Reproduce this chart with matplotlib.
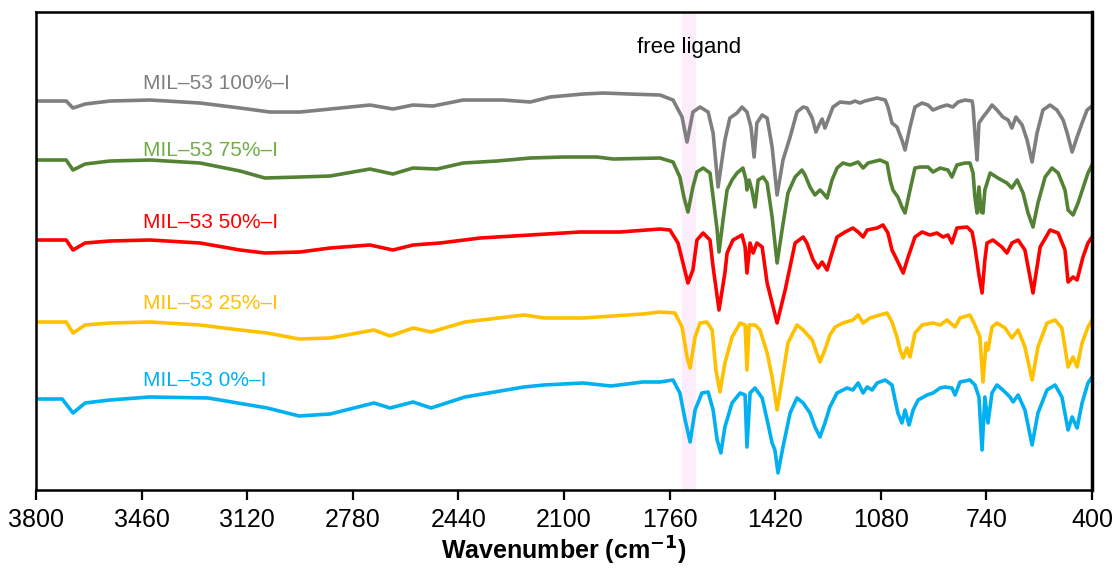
import matplotlib
matplotlib.use("Agg")
import matplotlib.pyplot as plt

plt.rcParams['font.family'] = ['Liberation Sans', 'DejaVu Sans']

# FTIR spectra of MIL-53 with different iodine content (stacked, a.u.)
labels = ["MIL\u201353 100%\u2013I", "MIL\u201353 75%\u2013I", "MIL\u201353 50%\u2013I",
          "MIL\u201353 25%\u2013I", "MIL\u201353 0%\u2013I"]
line_colors = ["#7f7f7f", "#548235", "#ff0000", "#ffc000", "#00b0f0"]
text_colors = ["#7f7f7f", "#70ad47", "#ff0000", "#ffc000", "#00b0f0"]
label_y = [4.07, 3.40, 2.68, 1.86, 1.09]

wn_100 = [3800, 3703, 3681, 3642, 3562, 3433, 3272, 3143, 3047, 2950, 2853, 2725, 2651, 2586, 2522,
          2425, 2296, 2209, 2145, 2039, 1974, 1888, 1791, 1749, 1720, 1704, 1685, 1662, 1636, 1620,
          1604, 1582, 1566, 1543, 1527, 1511, 1498, 1488, 1479, 1462, 1446, 1430, 1414, 1395, 1372,
          1350, 1330, 1318, 1301, 1289, 1279, 1269, 1260, 1250, 1234, 1211, 1179, 1163, 1147, 1131,
          1092, 1066, 1057, 1044, 1028, 1012, 1002, 986, 970, 947, 928, 912, 889, 867, 848, 831, 809,
          786, 783, 777, 770, 764, 751, 738, 722, 706, 687, 670, 658, 645, 625, 609, 593, 577, 558,
          535, 513, 493, 480, 464, 448, 432, 416, 400]
t_100 = [3.89, 3.89, 3.82, 3.86, 3.89, 3.90, 3.87, 3.82, 3.78, 3.78, 3.81, 3.85, 3.81, 3.85, 3.84,
         3.90, 3.90, 3.88, 3.93, 3.96, 3.97, 3.96, 3.95, 3.90, 3.73, 3.48, 3.78, 3.83, 3.78, 3.57,
         3.03, 3.50, 3.72, 3.77, 3.83, 3.78, 3.63, 3.33, 3.67, 3.75, 3.72, 3.43, 2.95, 3.30, 3.53,
         3.78, 3.83, 3.82, 3.72, 3.58, 3.65, 3.71, 3.62, 3.70, 3.83, 3.88, 3.87, 3.89, 3.87, 3.89,
         3.92, 3.90, 3.83, 3.67, 3.63, 3.50, 3.40, 3.63, 3.83, 3.87, 3.85, 3.80, 3.83, 3.85, 3.83,
         3.88, 3.90, 3.89, 3.83, 3.57, 3.30, 3.67, 3.73, 3.78, 3.85, 3.80, 3.73, 3.70, 3.62, 3.73,
         3.65, 3.50, 3.28, 3.57, 3.80, 3.85, 3.80, 3.70, 3.57, 3.38, 3.53, 3.67, 3.80, 3.84]

wn_75 = [3800, 3703, 3681, 3642, 3562, 3433, 3272, 3143, 3063, 2950, 2853, 2725, 2651, 2586, 2509,
         2425, 2316, 2209, 2103, 1994, 1942, 1791, 1749, 1727, 1714, 1701, 1685, 1672, 1652, 1630,
         1620, 1607, 1601, 1588, 1575, 1559, 1543, 1524, 1514, 1511, 1504, 1495, 1485, 1475, 1459,
         1446, 1430, 1414, 1398, 1379, 1356, 1334, 1324, 1308, 1292, 1276, 1266, 1253, 1237, 1221,
         1202, 1179, 1153, 1137, 1121, 1083, 1060, 1050, 1041, 1025, 1012, 1002, 986, 970, 954, 928,
         912, 889, 864, 851, 835, 809, 793, 783, 777, 770, 764, 757, 751, 745, 728, 703, 674, 658,
         641, 622, 606, 590, 574, 551, 529, 509, 487, 477, 461, 445, 413, 400]
t_75 = [3.30, 3.30, 3.20, 3.26, 3.29, 3.30, 3.27, 3.19, 3.12, 3.13, 3.14, 3.21, 3.16, 3.22, 3.21,
        3.27, 3.29, 3.32, 3.33, 3.33, 3.31, 3.32, 3.28, 3.13, 2.93, 2.78, 3.03, 3.18, 3.22, 3.17,
        2.93, 2.60, 2.38, 2.70, 3.00, 3.10, 3.17, 3.22, 3.10, 3.00, 3.10, 3.00, 2.83, 3.10, 3.13,
        3.07, 2.73, 2.27, 2.60, 2.97, 3.13, 3.20, 3.15, 3.03, 2.95, 3.00, 2.97, 2.92, 3.10, 3.22,
        3.27, 3.25, 3.28, 3.22, 3.27, 3.30, 3.27, 3.10, 3.00, 2.93, 2.83, 2.77, 3.00, 3.22, 3.23, 3.23,
        3.18, 3.22, 3.20, 3.13, 3.25, 3.27, 3.27, 3.17, 2.93, 2.77, 3.03, 2.78, 2.77, 3.00, 3.17,
        3.12, 3.07, 3.02, 3.10, 2.97, 2.77, 2.63, 2.87, 3.13, 3.22, 3.17, 3.00, 2.80, 2.75, 2.87,
        3.17, 3.25]

wn_50 = [3800, 3703, 3681, 3642, 3562, 3433, 3272, 3143, 3063, 2950, 2853, 2725, 2651, 2586, 2499,
         2370, 2209, 2048, 1920, 1791, 1759, 1733, 1717, 1701, 1685, 1672, 1652, 1630, 1620, 1601,
         1582, 1575, 1556, 1527, 1517, 1511, 1501, 1491, 1479, 1462, 1446, 1414, 1388, 1356, 1330,
         1318, 1298, 1282, 1269, 1253, 1237, 1221, 1195, 1170, 1153, 1137, 1124, 1092, 1073, 1057,
         1044, 1028, 1008, 992, 970, 947, 922, 899, 880, 864, 851, 835, 802, 786, 777, 764, 754, 745,
         738, 719, 690, 674, 658, 638, 616, 590, 567, 535, 509, 487, 477, 461, 448, 429, 413, 400]
t_50 = [2.50, 2.50, 2.40, 2.47, 2.49, 2.50, 2.47, 2.40, 2.37, 2.38, 2.42, 2.45, 2.40, 2.45, 2.47,
        2.52, 2.55, 2.58, 2.58, 2.61, 2.60, 2.47, 2.27, 2.07, 2.20, 2.50, 2.57, 2.50, 2.23, 1.80,
        2.17, 2.37, 2.50, 2.55, 2.43, 2.17, 2.47, 2.37, 2.47, 2.43, 2.07, 1.67, 2.00, 2.47, 2.53,
        2.47, 2.30, 2.22, 2.28, 2.20, 2.37, 2.53, 2.58, 2.62, 2.58, 2.53, 2.60, 2.62, 2.65, 2.57,
        2.40, 2.30, 2.17, 2.33, 2.53, 2.58, 2.55, 2.57, 2.53, 2.55, 2.47, 2.62, 2.63, 2.58, 2.43,
        2.15, 1.97, 2.30, 2.47, 2.50, 2.43, 2.37, 2.47, 2.50, 2.40, 1.97, 2.43, 2.60, 2.57, 2.40,
        2.08, 2.13, 2.10, 2.33, 2.47, 2.53]

wn_25 = [3800, 3703, 3681, 3642, 3562, 3433, 3272, 3143, 3056, 2953, 2853, 2712, 2660, 2586, 2528,
         2419, 2229, 2164, 2039, 1846, 1791, 1743, 1720, 1704, 1694, 1678, 1662, 1640, 1623, 1611,
         1598, 1582, 1559, 1533, 1517, 1511, 1504, 1485, 1469, 1446, 1430, 1414, 1398, 1379, 1350,
         1330, 1301, 1276, 1260, 1244, 1227, 1202, 1170, 1153, 1137, 1115, 1083, 1060, 1044, 1028,
         1018, 1008, 996, 986, 970, 947, 912, 889, 867, 841, 825, 793, 777, 761, 751, 741, 735, 722,
         706, 680, 658, 638, 616, 593, 574, 545, 519, 497, 477, 461, 448, 432, 413, 400]
t_25 = [1.68, 1.68, 1.57, 1.65, 1.67, 1.68, 1.65, 1.60, 1.57, 1.51, 1.52, 1.60, 1.54, 1.62, 1.58,
        1.68, 1.75, 1.72, 1.72, 1.76, 1.78, 1.77, 1.63, 1.33, 1.22, 1.53, 1.67, 1.68, 1.60, 1.20,
        0.98, 1.27, 1.53, 1.67, 1.65, 1.20, 1.65, 1.65, 1.60, 1.37, 1.13, 0.80, 1.10, 1.47, 1.65,
        1.60, 1.50, 1.28, 1.40, 1.55, 1.63, 1.67, 1.70, 1.75, 1.67, 1.72, 1.75, 1.77, 1.68, 1.53,
        1.40, 1.32, 1.42, 1.33, 1.57, 1.65, 1.67, 1.65, 1.70, 1.63, 1.72, 1.75, 1.65, 1.53, 1.08,
        1.47, 1.40, 1.63, 1.67, 1.62, 1.52, 1.60, 1.43, 1.10, 1.43, 1.67, 1.70, 1.62, 1.23, 1.33,
        1.23, 1.47, 1.63, 1.70]

wn_0 = [3800, 3716, 3681, 3642, 3562, 3433, 3246, 3056, 2953, 2853, 2712, 2660, 2586, 2528, 2419,
        2229, 2164, 2039, 1949, 1846, 1791, 1749, 1727, 1710, 1694, 1678, 1656, 1636, 1620, 1607,
        1595, 1582, 1559, 1533, 1517, 1511, 1501, 1485, 1462, 1446, 1430, 1421, 1411, 1395, 1372,
        1350, 1330, 1308, 1292, 1276, 1260, 1244, 1221, 1189, 1170, 1153, 1137, 1124, 1108, 1092,
        1066, 1044, 1034, 1025, 1012, 1002, 989, 976, 960, 931, 912, 889, 873, 851, 841, 825, 793,
        777, 764, 754, 745, 735, 722, 706, 687, 664, 654, 638, 616, 593, 574, 545, 519, 497, 477,
        464, 448, 432, 413, 400]
t_0 = [0.91, 0.91, 0.77, 0.87, 0.90, 0.93, 0.92, 0.82, 0.74, 0.76, 0.87, 0.82, 0.88, 0.82, 0.93,
       1.03, 1.05, 1.07, 1.04, 1.08, 1.08, 1.10, 0.97, 0.70, 0.48, 0.80, 0.97, 0.98, 0.80, 0.50,
       0.37, 0.63, 0.87, 0.97, 0.95, 0.43, 0.97, 1.02, 0.92, 0.70, 0.47, 0.40, 0.17, 0.43, 0.77,
       0.92, 0.87, 0.77, 0.63, 0.53, 0.67, 0.83, 0.97, 1.02, 1.00, 1.07, 0.97, 1.03, 1.00, 1.07,
       1.10, 1.05, 0.90, 0.77, 0.67, 0.80, 0.65, 0.80, 0.90, 0.95, 0.97, 1.02, 1.03, 1.02, 0.95,
       1.08, 1.10, 1.05, 0.93, 0.40, 0.93, 0.67, 0.97, 1.05, 1.00, 0.93, 0.88, 0.95, 0.80, 0.45,
       0.77, 1.00, 1.05, 0.93, 0.60, 0.73, 0.62, 0.87, 1.07, 1.13]

spectra = [(wn_100, t_100), (wn_75, t_75), (wn_50, t_50), (wn_25, t_25), (wn_0, t_0)]

ligand_band = (1675, 1720)
xticks = [3800, 3460, 3120, 2780, 2440, 2100, 1760, 1420, 1080, 740, 400]

fig = plt.figure(figsize=(11.16, 5.73), dpi=100)
ax = fig.add_axes([0.0323, 0.1449, 0.9462, 0.8341])

ax.axvspan(ligand_band[0], ligand_band[1], color="#fbedfb", lw=0, zorder=0)
ax.text(sum(ligand_band) / 2, 4.43, "free ligand", ha="center", va="center", fontsize=16)

for (wn, t), c, tc, lab, ly in zip(spectra, line_colors, text_colors, labels, label_y):
    ax.plot(wn, t, color=c, lw=2.6, solid_joinstyle="round", zorder=2)
    ax.text(3455, ly, lab, color=tc, fontsize=15, ha="left", va="center")

ax.set_xlim(3800, 400)
ax.set_ylim(0, 4.78)
ax.set_xticks(xticks)
ax.set_xticklabels([str(v) for v in xticks], fontsize=18)
ax.set_yticks([])
ax.tick_params(axis="x", direction="out", length=7, width=1.6, pad=6)
for side in ["left", "right", "top", "bottom"]:
    ax.spines[side].set_linewidth(1.8)
    ax.spines[side].set_color("black")
ax.spines["right"].set_linewidth(2.5)

ax.set_xlabel("Wavenumber (cm$^{\\mathbf{-1}}$)", fontsize=18, fontweight="bold", labelpad=2)

fig.savefig("out.png", dpi=100)
